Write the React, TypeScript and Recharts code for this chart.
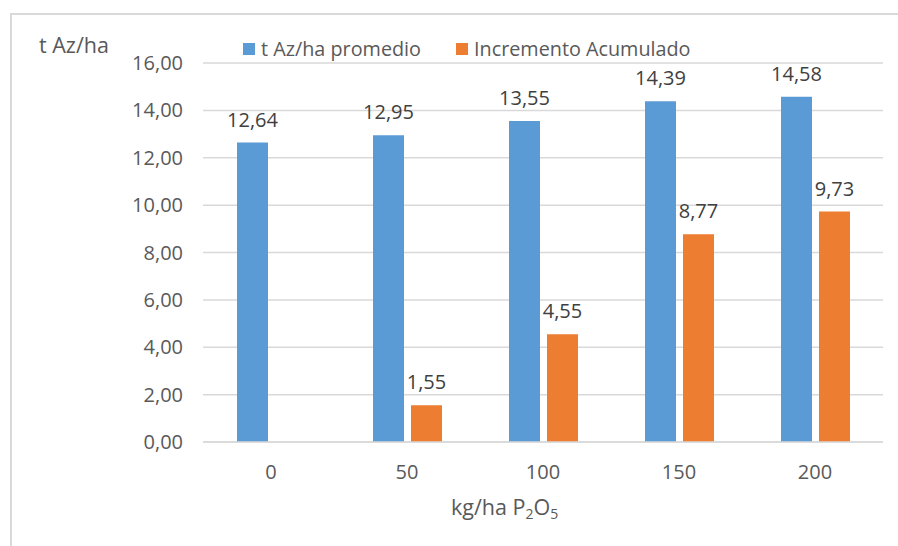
import { Bar, BarChart, CartesianGrid, LabelList, XAxis, YAxis } from 'recharts'

const dosis = ['0', '50', '100', '150', '200']
const promedio = [12.64, 12.95, 13.55, 14.39, 14.58]
const incremento: (number | null)[] = [null, 1.55, 4.55, 8.77, 9.73]
const yTicks = [0, 2, 4, 6, 8, 10, 12, 14, 16]

const BLUE = '#5B9BD5'
const ORANGE = '#ED7D31'
const GRID = '#D9D9D9'
const TEXT = '#595959'
const FONT = '"Open Sans", sans-serif'

const data = dosis.map((d, i) => ({
  dosis: d,
  promedio: promedio[i],
  incremento: incremento[i],
}))

const fmt = (v: number) => v.toFixed(2).replace('.', ',')

interface LabelProps {
  x?: number
  y?: number
  width?: number
  value?: number | null
}

function ValueLabel({ x = 0, y = 0, width = 0, value }: LabelProps) {
  if (value == null) return null
  return (
    <text
      x={x + width / 2}
      y={y - 16}
      textAnchor="middle"
      fill="#404040"
      fontSize={20}
      fontFamily={FONT}
    >
      {fmt(value)}
    </text>
  )
}

function LegendItem({ color, label, left }: { color: string; label: string; left: number }) {
  return (
    <div style={{ position: 'absolute', left, top: 35, display: 'flex', alignItems: 'center' }}>
      <span style={{ width: 12, height: 12, background: color, marginRight: 6, display: 'inline-block' }} />
      <span style={{ fontSize: 19.8, color: TEXT, fontFamily: FONT, whiteSpace: 'nowrap' }}>{label}</span>
    </div>
  )
}

export default function App() {
  return (
    <div
      style={{
        position: 'absolute',
        left: 0,
        top: 0,
        width: 898,
        height: 546,
        overflow: 'hidden',
        background: '#fff',
        fontFamily: FONT,
      }}
    >
      {/* chart frame */}
      <div
        style={{
          position: 'absolute',
          left: 10,
          top: 13,
          width: 1000,
          height: 1000,
          border: `2px solid ${GRID}`,
        }}
      />
      <div style={{ position: 'absolute', left: 0, top: 0 }}>
        <BarChart
          width={898}
          height={546}
          data={data}
          margin={{ top: 63, right: 15, bottom: 74, left: 0 }}
          barSize={31}
          barGap={7}
        >
          <CartesianGrid vertical={false} stroke={GRID} strokeWidth={1.5} />
          <XAxis
            dataKey="dosis"
            height={30}
            tickSize={0}
            tickMargin={23}
            axisLine={{ stroke: GRID, strokeWidth: 1.5 }}
            tick={{ fill: TEXT, fontSize: 20, fontFamily: FONT }}
          />
          <YAxis
            width={203}
            domain={[0, 16]}
            ticks={yTicks}
            tickFormatter={fmt}
            tickSize={0}
            tickMargin={20}
            axisLine={false}
            tick={{ fill: TEXT, fontSize: 20, fontFamily: FONT }}
          />
          <Bar dataKey="promedio" fill={BLUE} isAnimationActive={false}>
            <LabelList dataKey="promedio" content={<ValueLabel />} />
          </Bar>
          <Bar dataKey="incremento" fill={ORANGE} isAnimationActive={false}>
            <LabelList dataKey="incremento" content={<ValueLabel />} />
          </Bar>
        </BarChart>
      </div>

      <div style={{ position: 'absolute', left: 39, top: 30, fontSize: 21.5, color: TEXT, whiteSpace: 'nowrap' }}>
        t Az/ha
      </div>
      <LegendItem color={BLUE} label="t Az/ha promedio" left={243} />
      <LegendItem color={ORANGE} label="Incremento Acumulado" left={456} />
      <div style={{ position: 'absolute', left: 451, top: 492, fontSize: 21.5, color: TEXT, whiteSpace: 'nowrap' }}>
        kg/ha P<sub style={{ fontSize: 14, verticalAlign: -4 }}>2</sub>O<sub style={{ fontSize: 14, verticalAlign: -4 }}>5</sub>
      </div>
    </div>
  )
}
